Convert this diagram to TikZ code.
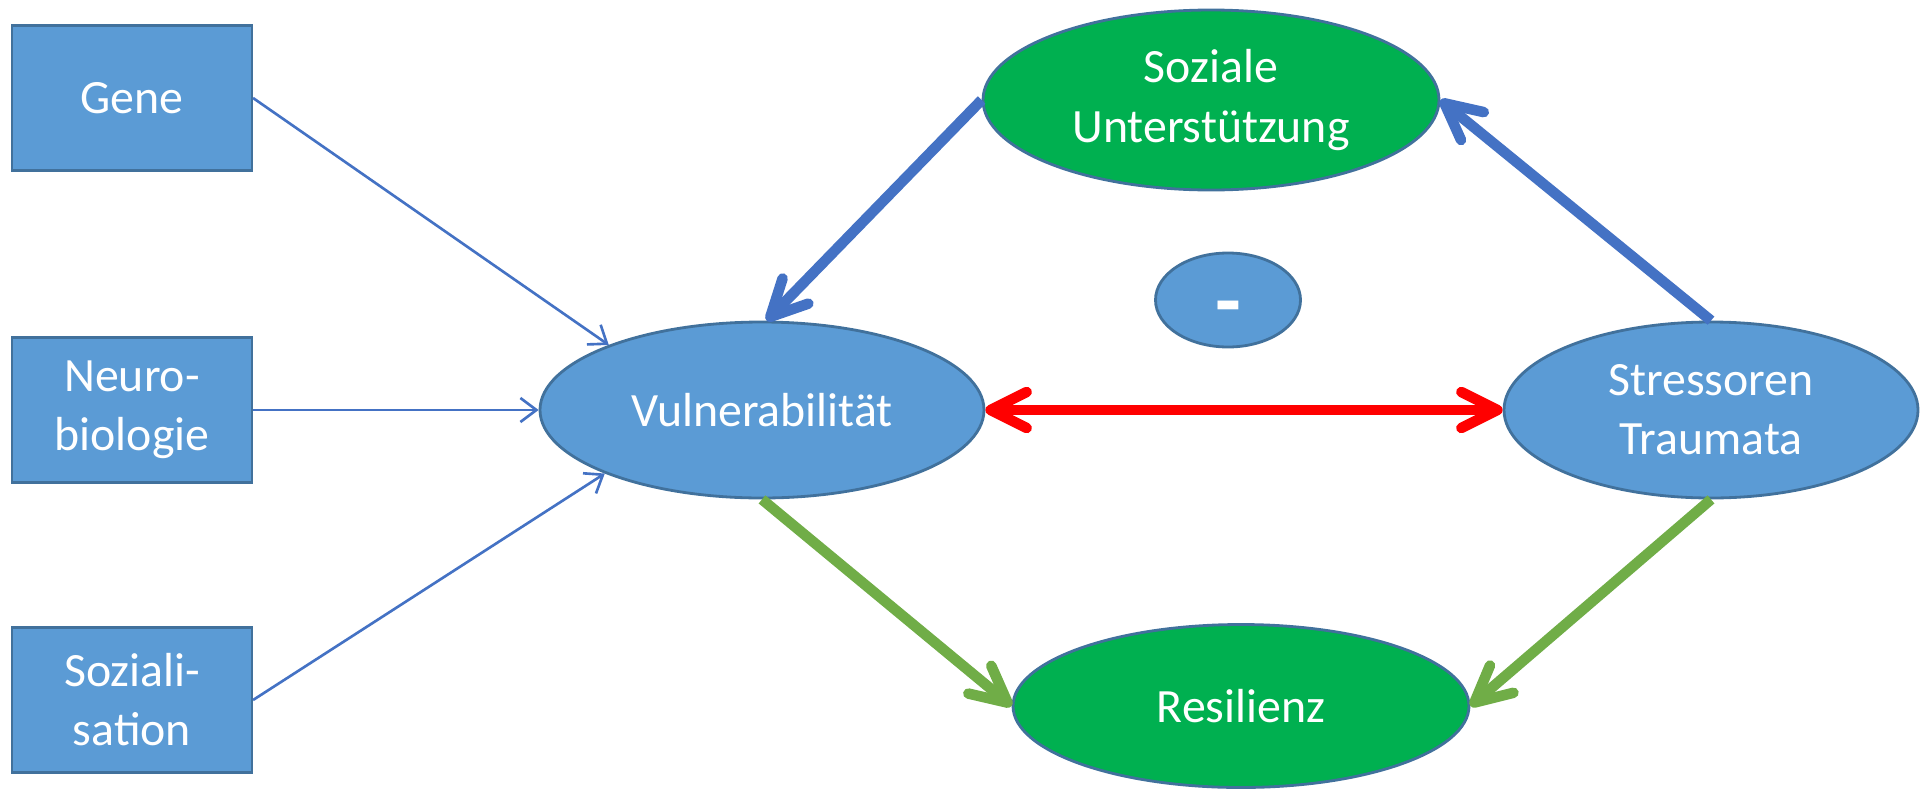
\documentclass[tikz,border=0pt]{standalone}
\usepackage{fontspec}
\setmainfont{Carlito}
\usetikzlibrary{shapes.geometric,arrows.meta}
\definecolor{blaufuell}{HTML}{5B9BD5}
\definecolor{randblau}{HTML}{41719C}
\definecolor{gruenfuell}{HTML}{00B050}
\definecolor{pfeilblau}{HTML}{4472C4}
\definecolor{pfeilgruen}{HTML}{70AD47}
\definecolor{pfeilrot}{HTML}{FF0000}

\begin{document}
\begin{tikzpicture}[
        font=\fontsize{13.6}{16.8}\selectfont,
        kasten/.style={draw=randblau, line width=0.6pt, fill=blaufuell, text=white,
            minimum width=2.40cm, minimum height=1.45cm, inner sep=0pt, align=center},
        oval/.style={ellipse, draw=randblau, line width=0.8pt, fill=blaufuell, text=white,
            inner sep=0pt, align=center},
        duenn/.style={draw=pfeilblau, line width=0.75pt, -{Straight Barb[length=1.6mm,width=2.4mm]}},
        spitze/.tip={Straight Barb[length=3.6mm,width=3.6mm,round]},
        dick/.style={line width=3pt, -spitze}
    ]
        % Rahmen
        \useasboundingbox (0,0) rectangle (19.2,7.9);

        % Kästen links
        \node[kasten] (gene) at (1.32,6.92) {Gene};
        \node[kasten] (neuro) at (1.32,3.80) {Neuro-\\biologie};
        \node[kasten] (sozial) at (1.32,0.90) {Soziali-\\sation};

        % Ellipsen
        \node[oval, minimum width=4.44cm, minimum height=1.76cm] (vuln) at (7.62,3.80) {Vulnerabilität};
        \node[oval, fill=gruenfuell, minimum width=4.56cm, minimum height=1.80cm] (unterst) at (12.11,6.90) {Soziale\\Unterstützung};
        \node[oval, minimum width=1.45cm, minimum height=0.94cm, font=\fontsize{24}{24}\selectfont\bfseries,
            text height=0.58cm, text depth=0cm] (minus) at (12.28,4.90) {-};
        \node[oval, minimum width=4.14cm, minimum height=1.76cm] (stress) at (17.11,3.80) {Stressoren\\Traumata};
        \node[oval, fill=gruenfuell, minimum width=4.56cm, minimum height=1.63cm] (resil) at (12.41,0.84) {Resilienz};

        % dünne Pfeile
        \draw[duenn] (gene.east) -- (vuln.157);
        \draw[duenn] (neuro.east) -- (vuln.west);
        \draw[duenn] (sozial.east) -- (vuln.202);

        % dicke Pfeile
        \draw[dick, pfeilblau] (unterst.west) -- (vuln.87);
        \draw[dick, pfeilblau] (stress.north) -- (unterst.east);
        \draw[dick, pfeilrot, spitze-spitze] (vuln.east) -- (stress.west);
        \draw[dick, pfeilgruen] (vuln.south) -- (resil.west);
        \draw[dick, pfeilgruen] (stress.south) -- (resil.east);
    \end{tikzpicture}
\end{document}
